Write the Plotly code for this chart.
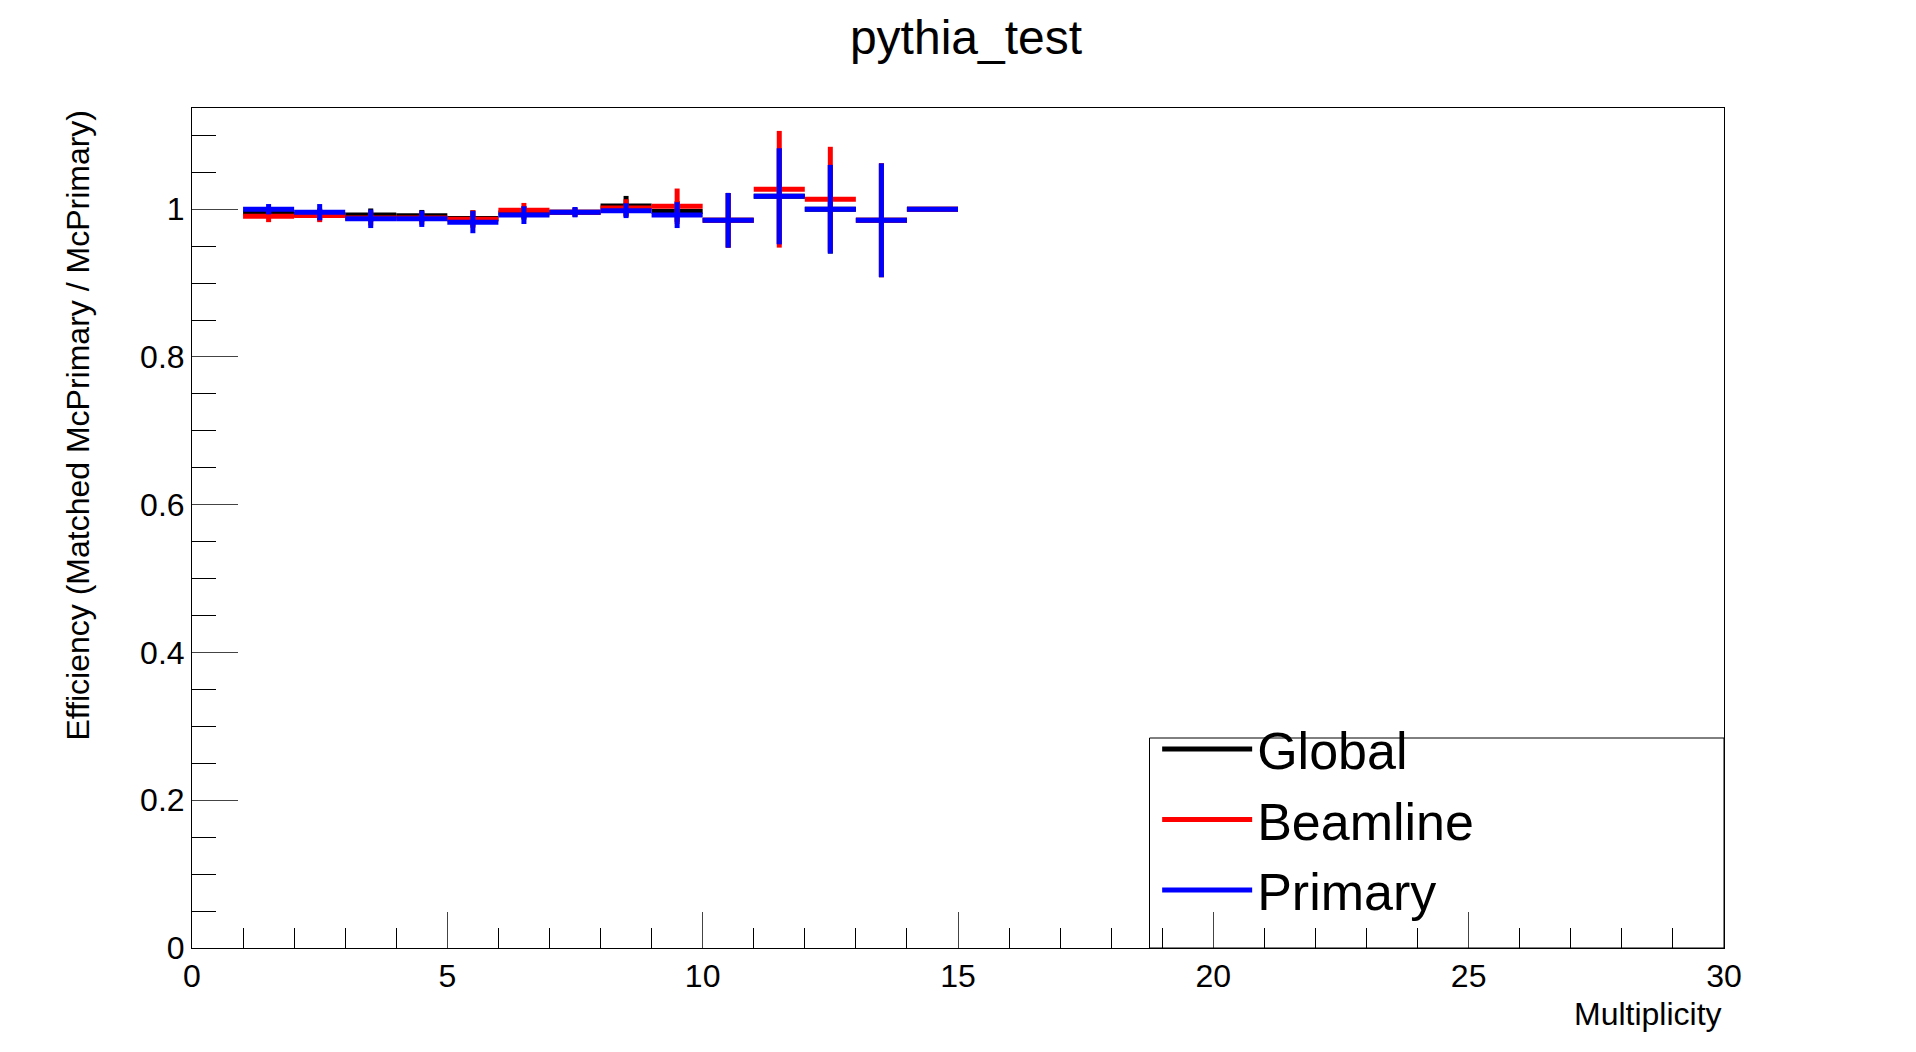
import plotly.graph_objects as go

bins = [1.5,2.5,3.5,4.5,5.5,6.5,7.5,8.5,9.5,10.5,11.5,12.5,13.5,14.5]
glob = [0.995,0.993,0.992,0.991,0.9875,0.995,0.996,1.0045,0.997,0.985,1.0175,1.0,0.985,1.0]
glob_err = [0.006,0.008,0.009,0.008,0.011,0.009,0.006,0.0135,0.014,0.037,0.065,0.06,0.077,0.0]
beam = [0.9905,0.9915,0.988,0.988,0.9865,0.9985,0.996,1.0015,1.004,0.985,1.027,1.0135,0.985,1.0]
beam_err = [0.008,0.009,0.01,0.009,0.012,0.01,0.006,0.012,0.024,0.037,0.079,0.071,0.077,0.0]
prim = [1.0,0.996,0.987,0.987,0.9825,0.992,0.996,0.998,0.992,0.985,1.0175,1.0,0.985,1.0]
prim_err = [0.007,0.011,0.0125,0.011,0.015,0.012,0.007,0.01,0.0175,0.037,0.065,0.06,0.077,0.0]

series = [("Global", glob, glob_err, "black"),
          ("Beamline", beam, beam_err, "red"),
          ("Primary", prim, prim_err, "blue")]

fig = go.Figure()
for name, v, e, c in series:
    fig.add_trace(go.Scatter(x=bins, y=v, mode="markers", marker=dict(size=1, color=c),
        error_x=dict(type="constant", value=0.5, width=0, thickness=5, color=c),
        error_y=dict(type="data", array=e, width=0, thickness=5, color=c),
        showlegend=False, hoverinfo="skip"))
for name, v, e, c in series:
    fig.add_trace(go.Scatter(x=[None], y=[None], mode="lines", name=name,
                             line=dict(color=c, width=5)))

font = "Liberation Sans, Arial, sans-serif"
fig.update_layout(
    width=1916, height=1052, plot_bgcolor="white", paper_bgcolor="white",
    margin=dict(l=184, r=200, t=100, b=112),
    font=dict(family=font, color="black", size=26),
    title=dict(text="pythia_test", x=0.5, xanchor="center", y=0.972, yanchor="middle",
               font=dict(size=48)),
    xaxis=dict(range=[0, 30], tick0=0, dtick=5, ticks="inside", ticklen=36, tickwidth=1,
               showgrid=False, zeroline=False, showline=True, linecolor="black", mirror=True,
               minor=dict(dtick=1, ticks="inside", ticklen=20, tickcolor="black"),
               tickfont=dict(size=32)),
    yaxis=dict(range=[0, 1.137], tick0=0, dtick=0.2, ticks="inside", ticklen=46, tickwidth=1,
               showgrid=False, zeroline=False, showline=True, linecolor="black", mirror=True,
               minor=dict(dtick=0.05, ticks="inside", ticklen=24, tickcolor="black"),
               tickvals=[0, 0.2, 0.4, 0.6, 0.8, 1], ticktext=["0", "0.2", "0.4", "0.6", "0.8", "1"],
               tickfont=dict(size=32)),
    legend=dict(x=0.63, y=0.285, xanchor="left", yanchor="top", bgcolor="rgba(0,0,0,0)",
                font=dict(size=52), itemwidth=90, tracegroupgap=0),
    shapes=[dict(type="rect", xref="paper", yref="paper", x0=0.625, x1=1.0, y0=0.0, y1=0.25,
                 line=dict(color="black", width=1), fillcolor="rgba(0,0,0,0)")],
    annotations=[
        dict(text="Multiplicity", xref="paper", yref="paper", x=1.0, y=-0.055, xanchor="right",
             yanchor="top", showarrow=False, font=dict(size=32)),
        dict(text="Efficiency (Matched McPrimary / McPrimary)", xref="paper", yref="paper",
             x=-0.075, y=1.0, xanchor="center", yanchor="top", textangle=-90, showarrow=False,
             font=dict(size=32)),
    ],
)
fig.write_html("out.html")
